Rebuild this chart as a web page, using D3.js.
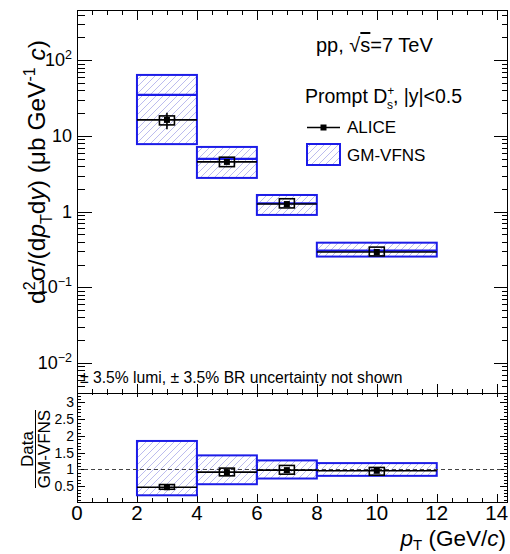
<!DOCTYPE html>
<html><head><meta charset="utf-8">
<script src="https://cdn.jsdelivr.net/npm/d3@7"></script>
<style>body{margin:0;background:#fff}svg{display:block}text{font-family:"Liberation Sans",Arial,sans-serif;fill:#000}</style>
</head><body><svg id="c" width="510" height="554"></svg>
<script>
// ---- data ----
const binLo = [2, 4, 6, 8];
const binHi = [4, 6, 8, 12];
const ptCenter = [3, 5, 7, 10];
const aliceVal = [16.3, 4.54, 1.26, 0.293];
const aliceStat = [4.0, 0.3, 0.08, 0.02];
const aliceSystLo = [14.0, 3.93, 1.12, 0.26];
const aliceSystHi = [18.4, 5.24, 1.48, 0.34];
const gmCentral = [34.8, 4.97, 1.29, 0.305];
const gmLo = [7.8, 2.79, 0.905, 0.255];
const gmHi = [64, 7.16, 1.66, 0.389];
const ratioVal = [0.47, 0.92, 0.98, 0.96];
const ratioStat = [0.05, 0.06, 0.07, 0.06];
const ratioSystLo = [0.41, 0.81, 0.86, 0.83];
const ratioSystHi = [0.55, 1.04, 1.12, 1.06];
const ratioBandLo = [0.23, 0.56, 0.73, 0.81];
const ratioBandHi = [1.85, 1.42, 1.27, 1.19];
const xTicks = [0, 2, 4, 6, 8, 10, 12, 14];
const yTopTicks = [0.01, 0.1, 1, 10, 100];
const yTopLabels = [["10", "\u22122"], ["10", "\u22121"], ["1", ""], ["10", ""], ["10", "2"]];
const yBotTicks = [0.5, 1, 1.5, 2, 2.5, 3];
const yBotLabels = ["0.5", "1", "1.5", "2", "2.5", "3"];

const svg = d3.select("#c");
const L = 77, R = 508, T1 = 10, B1 = 393, T2 = 393, B2 = 502;
const x = d3.scaleLinear().domain([0, (R - L) / 29.98]).range([L, R]);
const yT = d3.scaleLog().domain([Math.pow(10, -2.396), Math.pow(10, 2.664)]).range([B1, T1]);
const yB = d3.scaleLinear().domain([0.03, 3.28]).range([B2, T2]);

const blue = "#1c1ce8", hatchCol = "#b4b4ec";
const defs = svg.append("defs");
const pat = defs.append("pattern").attr("id", "hatch").attr("patternUnits", "userSpaceOnUse")
  .attr("width", 7).attr("height", 7);
pat.append("path").attr("d", "M-1,1 l2,-2 M0,7 l7,-7 M6,8 l2,-2")
  .attr("stroke", hatchCol).attr("stroke-width", 0.9);

// ---- frames ----
function frame(t, b) {
  svg.append("rect").attr("x", L + 0.5).attr("y", t + 0.5).attr("width", R - L - 1).attr("height", b - t)
    .attr("fill", "none").attr("stroke", "#000").attr("stroke-width", 1);
}
frame(T1, B1); frame(T2, B2);

// ---- x ticks ----
const xMinor = d3.range(0, 14.5, 0.5).filter(v => v % 2 !== 0);
function xTickMarks(yLine, dir, maj, min) {
  const g = svg.append("g").attr("stroke", "#000").attr("stroke-width", 1);
  xTicks.forEach(v => g.append("line").attr("x1", Math.round(x(v)) + 0.5).attr("x2", Math.round(x(v)) + 0.5)
    .attr("y1", yLine).attr("y2", yLine + dir * maj));
  xMinor.forEach(v => g.append("line").attr("x1", Math.round(x(v)) + 0.5).attr("x2", Math.round(x(v)) + 0.5)
    .attr("y1", yLine).attr("y2", yLine + dir * min));
}
xTickMarks(T1, 1, 10, 5);
xTickMarks(B1, -1, 9, 4);
xTickMarks(T2, 1, 4, 2);
xTickMarks(B2, -1, 8, 4);

// ---- y ticks top (log) ----
const gyt = svg.append("g").attr("stroke", "#000").attr("stroke-width", 1);
const logMinor = [];
for (let e = -3; e <= 2; e++) for (let m = 2; m <= 9; m++) {
  const v = m * Math.pow(10, e);
  if (v > yT.domain()[0] && v < yT.domain()[1]) logMinor.push(v);
}
yTopTicks.forEach(v => {
  const yy = Math.round(yT(v)) + 0.5;
  gyt.append("line").attr("x1", L).attr("x2", L + 15).attr("y1", yy).attr("y2", yy);
  gyt.append("line").attr("x1", R).attr("x2", R - 14).attr("y1", yy).attr("y2", yy);
});
logMinor.forEach(v => {
  const yy = Math.round(yT(v)) + 0.5;
  gyt.append("line").attr("x1", L).attr("x2", L + 8).attr("y1", yy).attr("y2", yy);
  gyt.append("line").attr("x1", R).attr("x2", R - 6).attr("y1", yy).attr("y2", yy);
});
yTopTicks.forEach((v, i) => {
  const t = svg.append("text").attr("x", 72).attr("y", yT(v) + 6).attr("text-anchor", "end").attr("font-size", 18);
  t.append("tspan").text(yTopLabels[i][0]);
  if (yTopLabels[i][1]) t.append("tspan").attr("dy", -7).attr("font-size", 12.5).text(yTopLabels[i][1]);
});

// ---- y ticks bottom ----
const gyb = svg.append("g").attr("stroke", "#000").attr("stroke-width", 1);
d3.range(0.1, 3.25, 0.1).forEach(v => {
  const isMaj = Math.abs(v * 2 - Math.round(v * 2)) < 1e-6;
  const yy = Math.round(yB(v)) + 0.5;
  gyb.append("line").attr("x1", L).attr("x2", L + (isMaj ? 8 : 4)).attr("y1", yy).attr("y2", yy);
  gyb.append("line").attr("x1", R).attr("x2", R - (isMaj ? 8 : 4)).attr("y1", yy).attr("y2", yy);
});
yBotTicks.forEach((v, i) => {
  svg.append("text").attr("x", 74).attr("y", yB(v) + 5).attr("text-anchor", "end").attr("font-size", 14).text(yBotLabels[i]);
});

// x tick labels
xTicks.forEach(v => {
  svg.append("text").attr("x", x(v)).attr("y", 520).attr("text-anchor", "middle").attr("font-size", 20.5).text(v);
});

// ---- top panel: GM-VFNS ----
const idx = d3.range(binLo.length);
const gTop = svg.append("g");
idx.forEach(i => {
  gTop.append("rect").attr("x", x(binLo[i])).attr("y", yT(gmHi[i]))
    .attr("width", x(binHi[i]) - x(binLo[i])).attr("height", yT(gmLo[i]) - yT(gmHi[i]))
    .attr("fill", "url(#hatch)").attr("stroke", blue).attr("stroke-width", 2);
  gTop.append("line").attr("x1", x(binLo[i])).attr("x2", x(binHi[i]))
    .attr("y1", yT(gmCentral[i])).attr("y2", yT(gmCentral[i])).attr("stroke", blue).attr("stroke-width", 2.2);
});
// ALICE top
idx.forEach(i => {
  const cx = x(ptCenter[i]);
  gTop.append("line").attr("x1", x(binLo[i])).attr("x2", x(binHi[i]))
    .attr("y1", yT(aliceVal[i])).attr("y2", yT(aliceVal[i])).attr("stroke", "#000").attr("stroke-width", 1.6);
  gTop.append("rect").attr("x", x(ptCenter[i] - 0.25)).attr("y", yT(aliceSystHi[i]))
    .attr("width", x(ptCenter[i] + 0.25) - x(ptCenter[i] - 0.25)).attr("height", yT(aliceSystLo[i]) - yT(aliceSystHi[i]))
    .attr("fill", "none").attr("stroke", "#000").attr("stroke-width", 1.6);
  gTop.append("line").attr("x1", cx).attr("x2", cx)
    .attr("y1", yT(aliceVal[i] + aliceStat[i])).attr("y2", yT(aliceVal[i] - aliceStat[i]))
    .attr("stroke", "#000").attr("stroke-width", 1.6);
  gTop.append("rect").attr("x", cx - 3).attr("y", yT(aliceVal[i]) - 3).attr("width", 6).attr("height", 6).attr("fill", "#000");
});

// ---- bottom panel ----
const gBot = svg.append("g");
idx.forEach(i => {
  gBot.append("rect").attr("x", x(binLo[i])).attr("y", yB(ratioBandHi[i]))
    .attr("width", x(binHi[i]) - x(binLo[i])).attr("height", yB(ratioBandLo[i]) - yB(ratioBandHi[i]))
    .attr("fill", "url(#hatch)").attr("stroke", blue).attr("stroke-width", 2);
});
gBot.append("line").attr("x1", L).attr("x2", R).attr("y1", Math.round(yB(1)) + 0.5).attr("y2", Math.round(yB(1)) + 0.5)
  .attr("stroke", "#444").attr("stroke-width", 1).attr("stroke-dasharray", "4,3");
idx.forEach(i => {
  const cx = x(ptCenter[i]);
  gBot.append("line").attr("x1", x(binLo[i])).attr("x2", x(binHi[i]))
    .attr("y1", yB(ratioVal[i])).attr("y2", yB(ratioVal[i])).attr("stroke", "#000").attr("stroke-width", 1.6);
  gBot.append("rect").attr("x", x(ptCenter[i] - 0.25)).attr("y", yB(ratioSystHi[i]))
    .attr("width", x(ptCenter[i] + 0.25) - x(ptCenter[i] - 0.25)).attr("height", yB(ratioSystLo[i]) - yB(ratioSystHi[i]))
    .attr("fill", "none").attr("stroke", "#000").attr("stroke-width", 1.6);
  gBot.append("line").attr("x1", cx).attr("x2", cx)
    .attr("y1", yB(ratioVal[i] + ratioStat[i])).attr("y2", yB(ratioVal[i] - ratioStat[i]))
    .attr("stroke", "#000").attr("stroke-width", 1.6);
  gBot.append("rect").attr("x", cx - 3).attr("y", yB(ratioVal[i]) - 3).attr("width", 6).attr("height", 6).attr("fill", "#000");
});

// ---- texts ----
const t1 = svg.append("text").attr("x", 316).attr("y", 52).attr("font-size", 20);
t1.append("tspan").text("pp, ");
t1.append("tspan").text("\u221A");
t1.append("tspan").attr("text-decoration", "overline").text("s");
t1.append("tspan").text("=7 TeV");

const t2 = svg.append("text").attr("x", 305).attr("y", 103).attr("font-size", 19.5);
t2.append("tspan").text("Prompt D");
t2.append("tspan").attr("dy", -8).attr("font-size", 12).text("+");
t2.append("tspan").attr("dx", -7.5).attr("dy", 14).attr("font-size", 12).text("s");
t2.append("tspan").attr("dy", -6).text(", |y|<0.5");

// legend
svg.append("line").attr("x1", 307).attr("x2", 340).attr("y1", 127.5).attr("y2", 127.5).attr("stroke", "#000").attr("stroke-width", 1.6);
svg.append("rect").attr("x", 320.5).attr("y", 124.5).attr("width", 6).attr("height", 6).attr("fill", "#000");
svg.append("text").attr("x", 347).attr("y", 133).attr("font-size", 17).text("ALICE");
svg.append("rect").attr("x", 307).attr("y", 144).attr("width", 33).attr("height", 21)
  .attr("fill", "url(#hatch)").attr("stroke", blue).attr("stroke-width", 2);
svg.append("text").attr("x", 347).attr("y", 161).attr("font-size", 17).text("GM-VFNS");

svg.append("text").attr("x", 80).attr("y", 383).attr("font-size", 15.7)
  .text("\u00B1 3.5% lumi, \u00B1 3.5% BR uncertainty not shown");

// y title top
const yt = svg.append("text").attr("transform", "translate(45,172) rotate(-90)").attr("text-anchor", "middle").attr("font-size", 24.5);
yt.append("tspan").text("d");
yt.append("tspan").attr("dy", -10).attr("font-size", 16).text("2");
yt.append("tspan").attr("dy", 10).text("\u03C3/(d");
yt.append("tspan").attr("font-style", "italic").text("p");
yt.append("tspan").attr("dy", 7).attr("font-size", 16).text("T");
yt.append("tspan").attr("dy", -7).text("d");
yt.append("tspan").attr("font-style", "italic").text("y");
yt.append("tspan").text(") (\u03BCb GeV");
yt.append("tspan").attr("dy", -10).attr("font-size", 16).text("-1");
yt.append("tspan").attr("dy", 10).text(" ");
yt.append("tspan").attr("font-style", "italic").text("c");
yt.append("tspan").text(")");

// y title bottom
svg.append("text").attr("transform", "translate(33,449) rotate(-90)").attr("text-anchor", "middle").attr("font-size", 17).text("Data");
svg.append("line").attr("x1", 35.5).attr("x2", 35.5).attr("y1", 410).attr("y2", 488).attr("stroke", "#000").attr("stroke-width", 1);
svg.append("text").attr("transform", "translate(50,449) rotate(-90)").attr("text-anchor", "middle").attr("font-size", 17).text("GM-VFNS");

// x title
const xt = svg.append("text").attr("x", 506).attr("y", 546).attr("text-anchor", "end").attr("font-size", 22.5);
xt.append("tspan").attr("font-style", "italic").text("p");
xt.append("tspan").attr("dy", 4).attr("font-size", 15).text("T");
xt.append("tspan").attr("dy", -4).text(" (GeV/");
xt.append("tspan").attr("font-style", "italic").text("c");
xt.append("tspan").text(")");
</script></body></html>
